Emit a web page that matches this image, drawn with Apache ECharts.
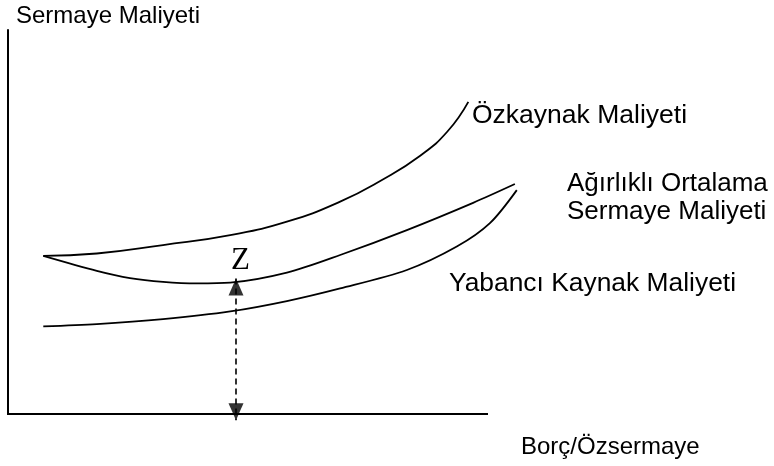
<!DOCTYPE html>
<html>
<head>
<meta charset="utf-8">
<script src="https://cdn.jsdelivr.net/npm/echarts@6/dist/echarts.min.js"></script>
<style>
html, body { margin: 0; padding: 0; background: #fff; }
#echart { width: 774px; height: 466px; }
</style>
</head>
<body>
<div id="echart"></div>
<script>
// [Borç/Özsermaye, Sermaye Maliyeti] (axis drawn 0-100, curves run a bit past it)
var ozkaynak = [[7.35,41.2],[18.5,41.8],[32.3,44.0],[46.3,46.6],[58.1,50.1],[69.2,55.3],[78.0,61.0],[85.8,67.2],[91.5,73.5],[95.9,81.3]];
var agirlikli = [[7.35,41.2],[18.5,37.3],[25.4,35.4],[32.3,34.4],[39.4,34.0],[46.3,34.2],[58.1,36.8],[69.2,41.4],[83.1,47.9],[96.9,55.0],[105.6,59.9]];
var yabanci = [[7.35,22.8],[18.5,23.4],[32.3,24.7],[46.3,26.7],[58.1,29.4],[69.2,32.7],[83.1,37.5],[93.5,43.6],[100.4,49.7],[106,58.3]];
// Z: optimum borç oranı, dikey ok (uçlar)
var zArrow = [[47.5,35.3],[47.5,-1.6]];
var baseLine = [[-0.4,0],[100,0]];

var labelFont = '"Liberation Sans", Arial, sans-serif';

var myChart = echarts.init(document.getElementById('echart'));

function curve(name, data, smooth) {
    return {
        name: name,
        type: 'line',
        data: data,
        smooth: smooth,
        showSymbol: false,
        clip: false,
        silent: true,
        lineStyle: { color: '#000', width: 1.8 }
    };
}

var option = {
    animation: false,
    grid: { left: 8, right: 238, top: 30, bottom: 52 },
    xAxis: {
        type: 'value', min: 0, max: 110,
        axisLine: { show: false },
        axisTick: { show: false }, axisLabel: { show: false }, splitLine: { show: false }
    },
    yAxis: {
        type: 'value', min: 0, max: 100,
        axisLine: { show: true, lineStyle: { color: '#000', width: 2 } },
        axisTick: { show: false }, axisLabel: { show: false }, splitLine: { show: false }
    },
    series: [
        curve('Özkaynak Maliyeti', ozkaynak, 0.5),
        curve('Ağırlıklı Ortalama Sermaye Maliyeti', agirlikli, 0.3),
        curve('Yabancı Kaynak Maliyeti', yabanci, 0.3),
        {
            name: 'eksen',
            type: 'line',
            data: baseLine,
            showSymbol: false,
            clip: false,
            silent: true,
            lineStyle: { color: '#000', width: 2 }
        },
        {
            name: 'Z',
            type: 'line',
            data: zArrow,
            showSymbol: false,
            clip: false,
            silent: true,
            lineStyle: { color: '#000', width: 1.6, type: [6, 4] }
        },
        {
            name: 'Z uçları',
            type: 'scatter',
            clip: false,
            silent: true,
            symbol: 'triangle',
            symbolSize: [15, 17],
            itemStyle: { color: '#000' },
            data: [
                { value: zArrow[0], symbolOffset: [0, 8.5] },
                { value: zArrow[1], symbolRotate: 180, symbolOffset: [0, -8.5] }
            ]
        }
    ],
    graphic: [
        { type: 'text', left: 16, top: 4, style: { text: 'Sermaye Maliyeti', font: '24px ' + labelFont, fill: '#000' } },
        { type: 'text', left: 472, top: 102, style: { text: 'Özkaynak Maliyeti', font: '26.5px ' + labelFont, fill: '#000' } },
        { type: 'text', left: 567, top: 171, style: { text: 'Ağırlıklı Ortalama', font: '26px ' + labelFont, fill: '#000' } },
        { type: 'text', left: 567, top: 199, style: { text: 'Sermaye Maliyeti', font: '26px ' + labelFont, fill: '#000' } },
        { type: 'text', left: 449, top: 271, style: { text: 'Yabancı Kaynak Maliyeti', font: '26.4px ' + labelFont, fill: '#000' } },
        { type: 'text', left: 521, top: 435, style: { text: 'Borç/Özsermaye', font: '24px ' + labelFont, fill: '#000' } },
        { type: 'text', left: 231, top: 245, style: { text: 'Z', font: '31px "Liberation Serif", "Times New Roman", serif', fill: '#000' } }
    ]
};

myChart.setOption(option);
</script>
</body>
</html>
